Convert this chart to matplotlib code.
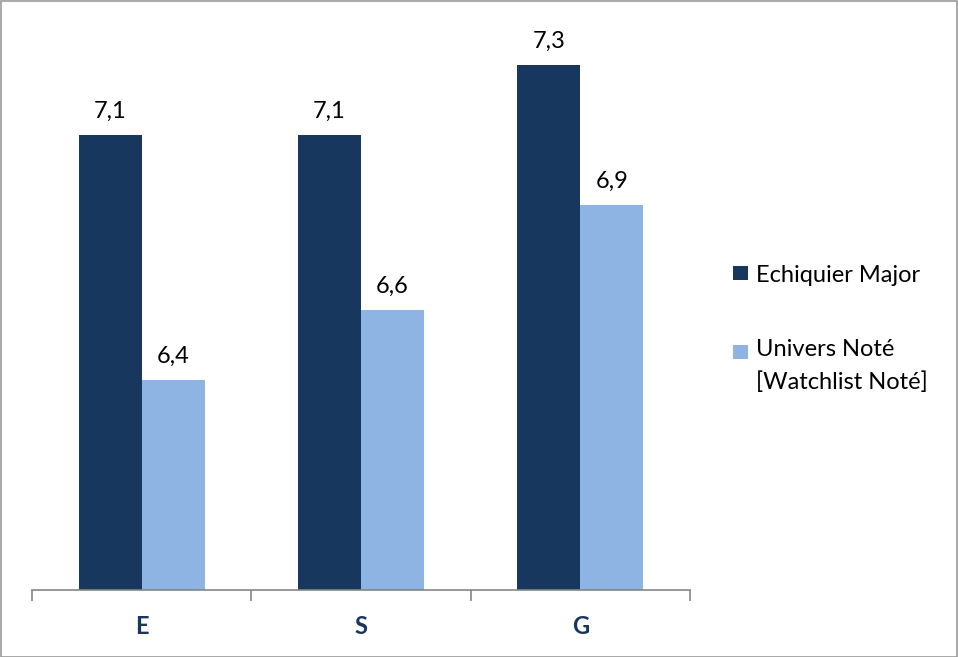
import matplotlib
matplotlib.use("Agg")
import matplotlib.pyplot as plt
from matplotlib.patches import Rectangle
import numpy as np

plt.rcParams['font.family'] = ['Lato', 'DejaVu Sans']

categories = ["E", "S", "G"]
series_names = ["Echiquier Major", "Univers Noté\n[Watchlist Noté]"]
echiquier = [7.1, 7.1, 7.3]
univers = [6.4, 6.6, 6.9]
labels_echiquier = ["7,1", "7,1", "7,3"]
labels_univers = ["6,4", "6,6", "6,9"]

dark = "#17375E"
light = "#8DB4E2"
axis_grey = "#868686"
FS = 17

W, H = 958, 657
fig = plt.figure(figsize=(W / 100, H / 100), dpi=100)
ax = fig.add_axes([32 / W, 67 / H, 658 / W, 560 / H])

y0 = 5.8
x = np.arange(len(categories))
w = 0.287
b1 = ax.bar(x - w / 2, np.array(echiquier) - y0, w, bottom=y0, color=dark)
b2 = ax.bar(x + w / 2, np.array(univers) - y0, w, bottom=y0, color=light)

for bars, texts in ((b1, labels_echiquier), (b2, labels_univers)):
    for rect, txt in zip(bars, texts):
        ax.annotate(txt, (rect.get_x() + rect.get_width() / 2, rect.get_y() + rect.get_height()),
                    xytext=(0, 12.5), textcoords="offset points", ha="center", va="baseline",
                    fontsize=FS, color="black")

ax.set_xlim(-0.5, 2.5)
ax.set_ylim(y0, 7.4)

for s in ["top", "right", "left"]:
    ax.spines[s].set_visible(False)
ax.spines["bottom"].set_color(axis_grey)
ax.spines["bottom"].set_linewidth(1.2)
ax.set_yticks([])

ax.set_xticks(x)
ax.set_xticklabels(categories, fontsize=FS, fontweight="bold", color=dark)
ax.tick_params(axis="x", which="major", length=0, pad=18)
ax.set_xticks(np.arange(-0.5, 3.0, 1.0), minor=True)
ax.tick_params(axis="x", which="minor", length=8, width=1.2, color=axis_grey)

# legend: colour square beside the first line of each entry
def fx(px):
    return px / W

def fy(py):
    return 1 - py / H

# (label, colour, square top px, baseline px of the last text line)
legend_items = [(series_names[0], dark, 266, 282), (series_names[1], light, 345, 389)]
for name, col, sq_top, base in legend_items:
    fig.patches.append(Rectangle((fx(733), fy(sq_top + 14)), 15 / W, 14 / H,
                                 transform=fig.transFigure, facecolor=col, edgecolor="none"))
    fig.text(fx(756), fy(base), name, fontsize=FS, color="black",
             ha="left", va="baseline", linespacing=1.66)

fig.patches.append(Rectangle((0.5 / W, 0.5 / H), (W - 1.5) / W, (H - 1.5) / H,
                             transform=fig.transFigure, fill=False,
                             edgecolor="#9A9A9A", linewidth=1.2))

fig.savefig("out.png", dpi=100)
